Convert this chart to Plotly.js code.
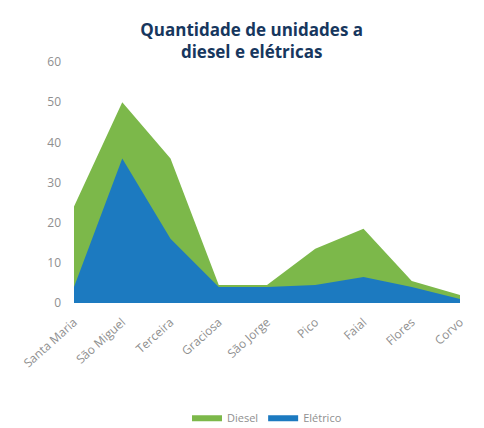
<!DOCTYPE html>
<html>
<head>
<meta charset="utf-8">
<script src="https://cdn.plot.ly/plotly-3.0.1.min.js"></script>
<style>
  html, body { margin: 0; padding: 0; background: #fff; }
  #chart { width: 484px; height: 428px; }
</style>
</head>
<body>
<div id="chart"></div>
<script>
// Ilhas dos Açores – quantidade de unidades por tipo
const ILHAS = ["Santa Maria", "São Miguel", "Terceira", "Graciosa", "São Jorge", "Pico", "Faial", "Flores", "Corvo"];
const DIESEL = [24, 50, 36, 4.5, 4.5, 13.5, 18.5, 5.5, 2];
const ELETRICO = [4, 36, 16, 4, 4, 4.5, 6.5, 4, 1];

const GREEN = "#7cb84a";
const BLUE = "#1c7ac0";

const traces = [
  {
    x: ILHAS, y: DIESEL, name: "Diesel",
    type: "scatter", mode: "lines", fill: "tozeroy",
    line: { color: GREEN, width: 0 }, fillcolor: GREEN,
  },
  {
    x: ILHAS, y: ELETRICO, name: "Elétrico",
    type: "scatter", mode: "lines", fill: "tozeroy",
    line: { color: BLUE, width: 0 }, fillcolor: BLUE,
  },
];

const layout = {
  width: 484,
  height: 428,
  paper_bgcolor: "#fff",
  plot_bgcolor: "#fff",
  font: { family: "Open Sans, sans-serif", color: "#8f8f8f", size: 12 },
  margin: { l: 74, r: 24, t: 62, b: 125 },
  title: {
    text: "<b>Quantidade de unidades a<br>diesel e elétricas</b>",
    font: { family: "Open Sans, sans-serif", size: 17, color: "#17375e" },
    x: 0.52, xanchor: "center", y: 0.915, yanchor: "middle",
  },
  xaxis: {
    type: "category",
    range: [0, ILHAS.length - 1],
    tickangle: -42,
    showgrid: false, zeroline: false, showline: false,
    ticks: "",
    ticklabelstandoff: 9,
    tickfont: { size: 12, color: "#8f8f8f" },
  },
  yaxis: {
    range: [0, 60],
    dtick: 10,
    showgrid: false, zeroline: false, showline: false,
    ticks: "",
    ticklabelstandoff: 12,
    tickfont: { size: 12, color: "#8f8f8f" },
  },
  legend: {
    orientation: "h",
    x: 0.5, xanchor: "center",
    yref: "container",
    y: 0.025, yanchor: "middle",
    traceorder: "normal",
    itemwidth: 30,
    font: { size: 11, color: "#8f8f8f" },
  },
  showlegend: true,
};

Plotly.newPlot("chart", traces, layout, { displayModeBar: false });
</script>
</body>
</html>
